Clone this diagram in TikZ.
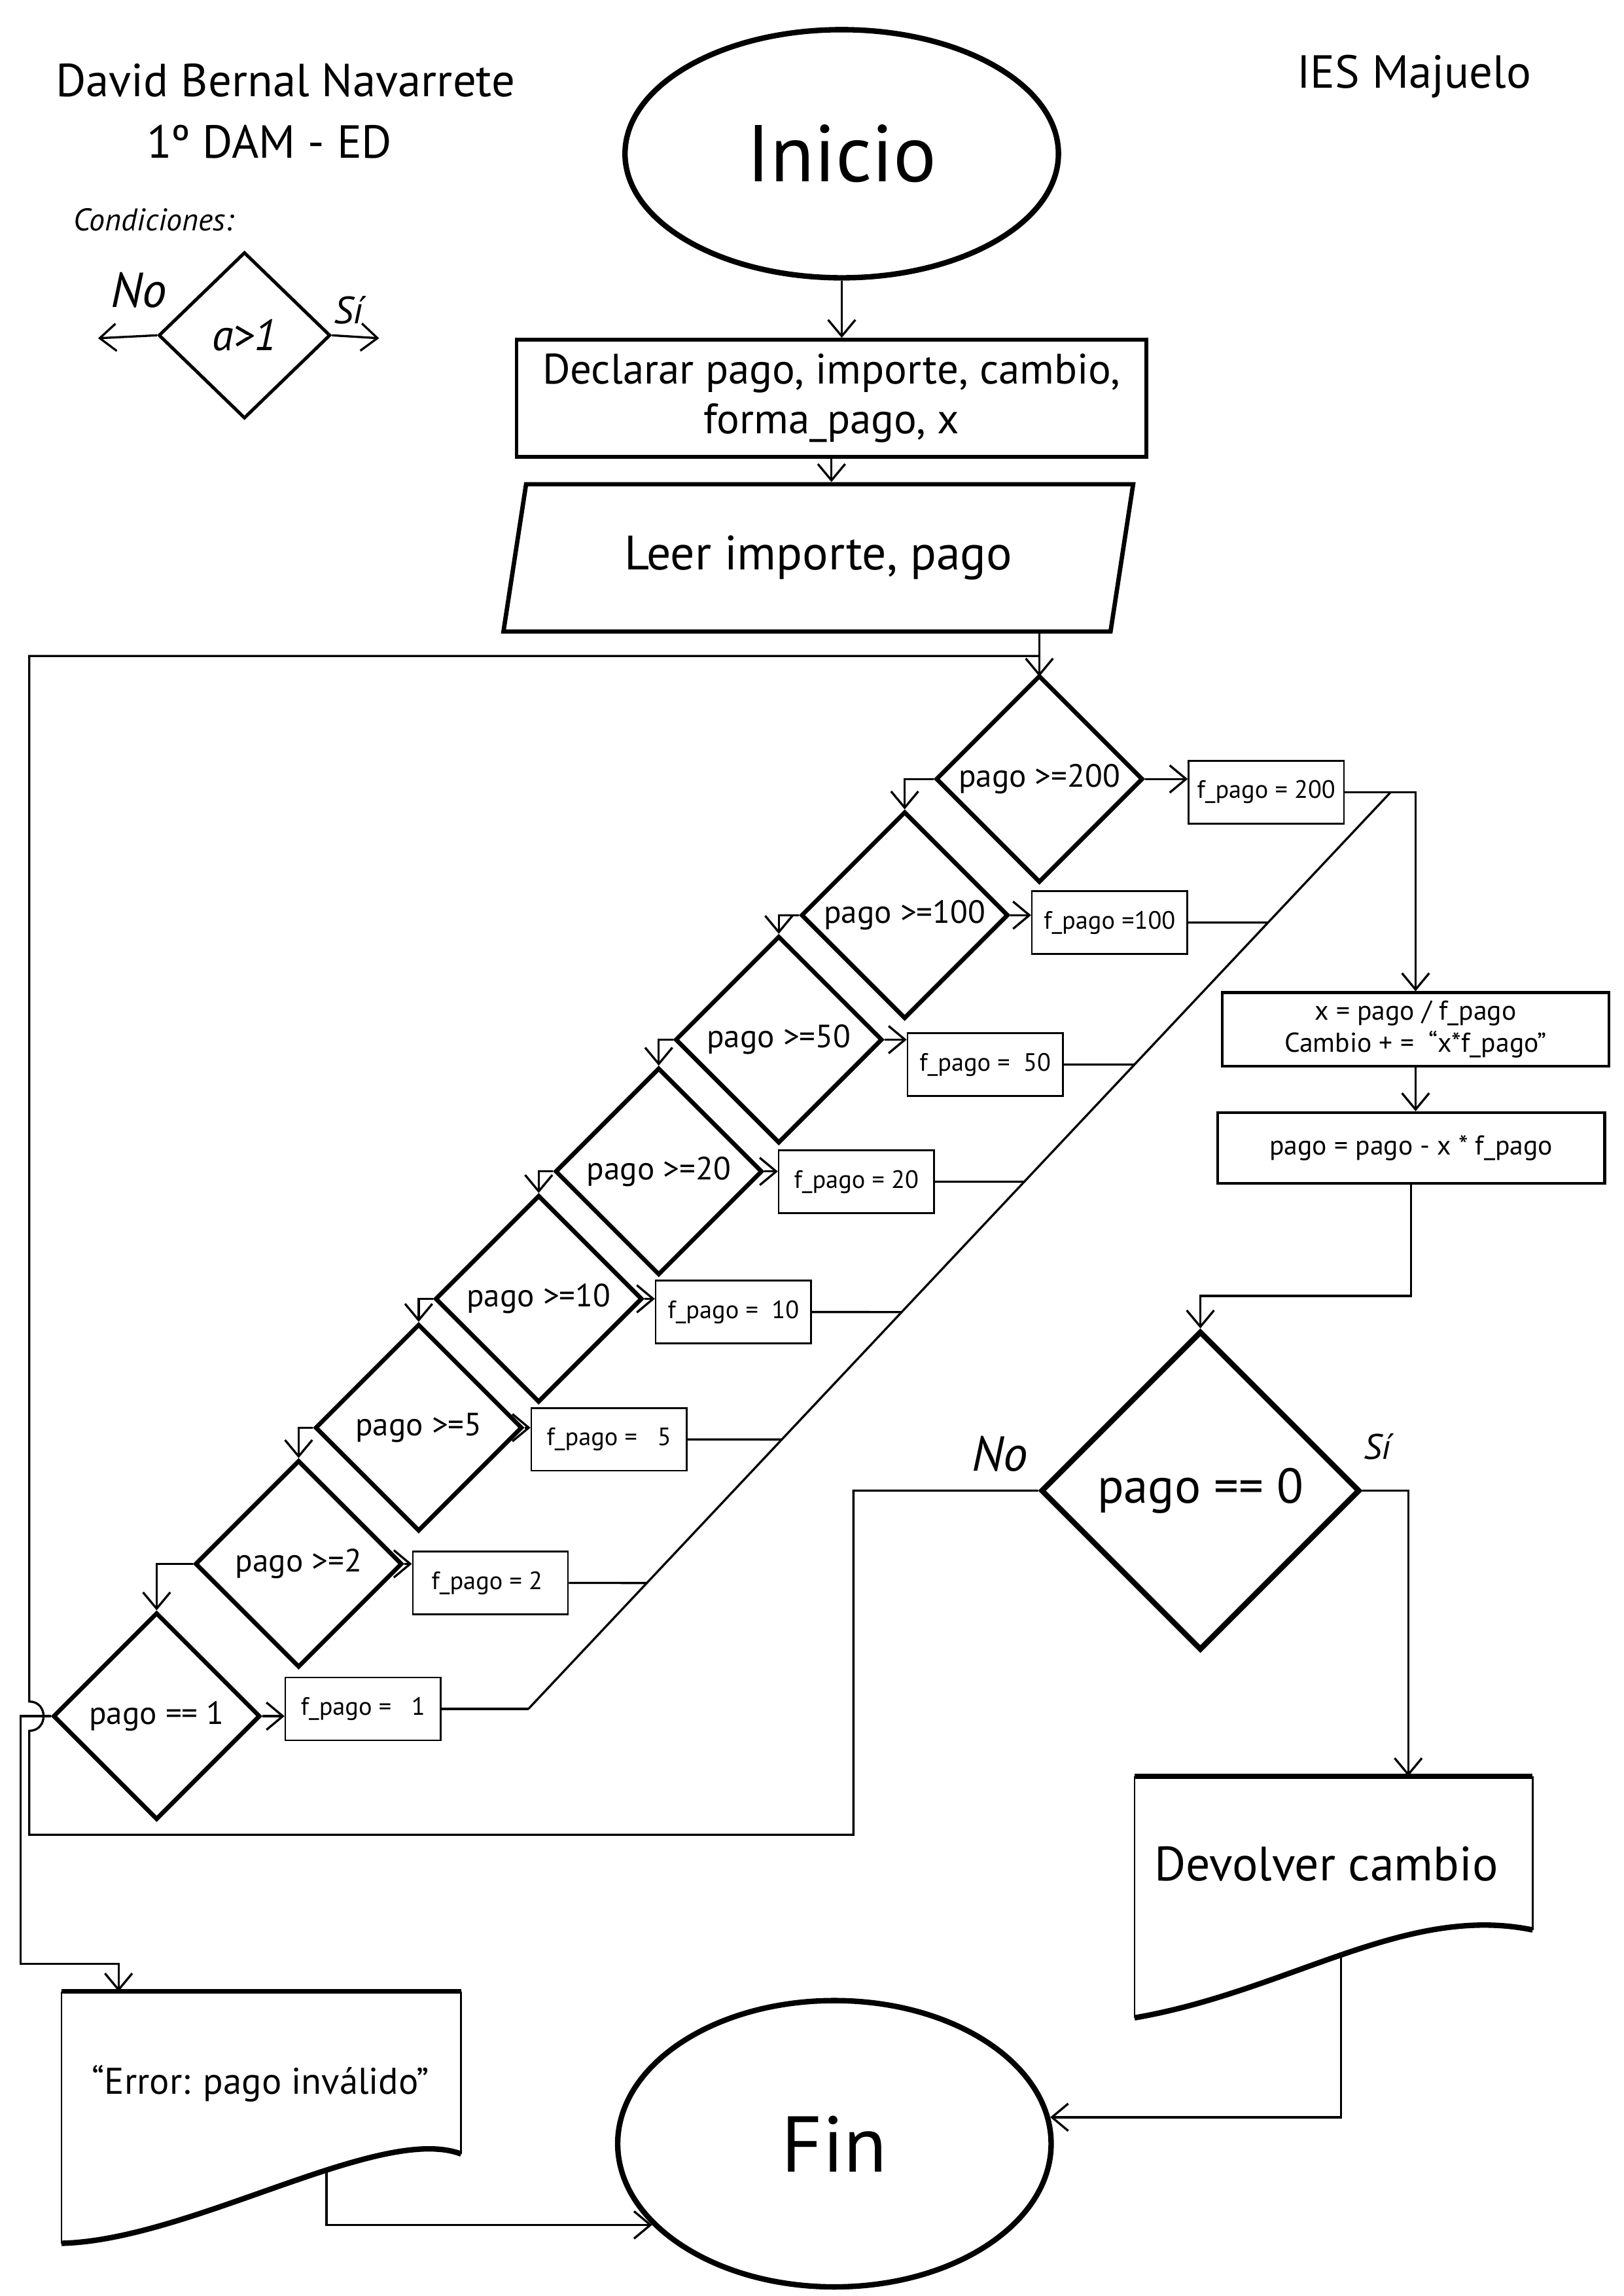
\documentclass[tikz,border=0pt]{standalone}
\usepackage{fontspec}
\setmainfont{PT Sans}
\usetikzlibrary{shapes.geometric,arrows.meta}

\begin{document}
\begin{tikzpicture}[x=0.537pt,y=-0.537pt,line width=0.8pt,>={Straight Barb[length=6pt,width=10pt]}]

	\tikzstyle{terminal}=[draw,ellipse,line width=2pt,inner sep=0pt]
	\tikzstyle{proceso}=[draw,rectangle,line width=1.3pt,align=center,inner sep=0pt]
	\tikzstyle{entrada}=[draw,trapezium,trapezium left angle=63,trapezium right angle=117,trapezium stretches body,line width=1.6pt,inner sep=0pt]
	\tikzstyle{condicion}=[draw,diamond,line width=1.6pt,inner sep=0pt,minimum width=76pt,minimum height=76pt,font=\fontsize{11.8}{14}\selectfont]
	\tikzstyle{asignacion}=[draw,rectangle,line width=0.6pt,inner xsep=2pt,inner ysep=0pt,minimum width=57pt,minimum height=23pt,font=\fontsize{9.2}{11}\selectfont]
	\tikzstyle{mano}=[font=\itshape]

	\useasboundingbox (0,0) rectangle (1109,1568);

	% cabecera
	\node[font=\fontsize{17}{20}\selectfont] (autor) at (195,55) {David Bernal Navarrete};
	\node[font=\fontsize{17}{20}\selectfont] (curso) at (184,97) {1º DAM - ED};
	\node[font=\fontsize{17}{20}\selectfont] (centro) at (966,52) {IES Majuelo};

	% leyenda
	\node[mano,font=\itshape\fontsize{11.5}{13}\selectfont] (condiciones) at (105,150) {Condiciones:};
	\node[draw,diamond,line width=1.2pt,inner sep=0pt,minimum width=63pt,minimum height=61pt,font=\itshape\fontsize{16}{19}\selectfont] (ejemplo) at (167,229) {a>1};
	\coordinate (ejno) at (67,231);
	\coordinate (ejsi) at (259,231);
	\draw[->] (ejemplo.west) -- (ejno);
	\draw[->] (ejemplo.east) -- (ejsi);
	\node[font=\itshape\fontsize{18}{20}\selectfont] (etno) at (95,198) {No};
	\node[font=\itshape\fontsize{14}{16}\selectfont] (etsi) at (238,212) {Sí};

	% inicio y lectura
	\node[terminal,minimum width=159pt,minimum height=91pt,font=\fontsize{29.5}{34}\selectfont] (inicio) at (575,105) {Inicio};
	\node[proceso,minimum width=231pt,minimum height=43pt,font=\fontsize{15.6}{18.3}\selectfont] (declarar) at (568,272) {Declarar pago, importe, cambio,\\forma\_pago, x};
	\node[entrada,minimum width=231pt,minimum height=54pt,font=\fontsize{17.7}{20}\selectfont] (leer) at (559,381) {Leer importe, pago};

	\draw[->] (inicio.south) -- (inicio.south |- declarar.north);
	\draw[->] (declarar.south) -- (declarar.south |- leer.north);
	\draw[->] (leer.south -| 710,0) -- (710,462);

	% condiciones de billetes y monedas
	\node[condicion] (d200) at (710,532) {pago >=200};
	\node[condicion] (d100) at (618,625) {pago >=100};
	\node[condicion] (d50) at (532,710) {pago >=50};
	\node[condicion] (d20) at (450,800) {pago >=20};
	\node[condicion] (d10) at (368,887) {pago >=10};
	\node[condicion] (d5) at (286,975) {pago >=5};
	\node[condicion] (d2) at (204,1068) {pago >=2};
	\node[condicion] (d1) at (107,1172) {pago == 1};

	\node[asignacion] (f200) at (865,541) {f\_pago = 200};
	\node[asignacion] (f100) at (758,630) {f\_pago =100};
	\node[asignacion] (f50) at (673,727) {f\_pago = \ 50};
	\node[asignacion] (f20) at (585,807) {f\_pago = 20};
	\node[asignacion] (f10) at (501,896) {f\_pago = \ 10};
	\node[asignacion] (f5) at (416,983) {f\_pago = \ \ 5};
	\node[asignacion] (f2) at (335,1081) {f\_pago = 2\ \ };
	\node[asignacion] (f1) at (248,1167) {f\_pago = \ \ 1};

	\draw[->] (d200.west) -| (d100.north);
	\draw[->] (d100.west) -| (d50.north);
	\draw[->] (d50.west) -| (d20.north);
	\draw[->] (d20.west) -| (d10.north);
	\draw[->] (d10.west) -| (d5.north);
	\draw[->] (d5.west) -| (d2.north);
	\draw[->] (d2.west) -| (d1.north);

	\draw[->] (d200.east) -- (d200.east -| f200.west);
	\draw[->] (d100.east) -- (d100.east -| f100.west);
	\draw[->] (d50.east) -- (d50.east -| f50.west);
	\draw[->] (d20.east) -- (d20.east -| f20.west);
	\draw[->] (d10.east) -- (d10.east -| f10.west);
	\draw[->] (d5.east) -- (d5.east -| f5.west);
	\draw[->] (d2.east) -- (d2.east -| f2.west);
	\draw[->] (d1.east) -- (d1.east -| f1.west);

	% colector
	\coordinate (colector1) at (950,541);
	\coordinate (colector2) at (361,1167);
	\draw (colector2) -- (colector1);
	\draw (f100.east) -- (intersection of colector1--colector2 and f100.west--f100.east);
	\draw (f50.east) -- (intersection of colector1--colector2 and f50.west--f50.east);
	\draw (f20.east) -- (intersection of colector1--colector2 and f20.west--f20.east);
	\draw (f10.east) -- (intersection of colector1--colector2 and f10.west--f10.east);
	\draw (f5.east) -- (intersection of colector1--colector2 and f5.west--f5.east);
	\draw (f2.east) -- (intersection of colector1--colector2 and f2.west--f2.east);
	\draw (f1.east) -- (colector2);

	% calculo del cambio
	\node[proceso,line width=1pt,minimum width=142pt,minimum height=27pt,font=\fontsize{10}{11.8}\selectfont] (calc) at (967,703) {x = pago / f\_pago\\Cambio + = \ “x*f\_pago”};
	\node[proceso,line width=1pt,minimum width=142pt,minimum height=26pt,font=\fontsize{10}{12}\selectfont] (resta) at (964,784) {pago = pago - x * f\_pago};
	\node[condicion,line width=2pt,minimum width=117pt,minimum height=117pt,font=\fontsize{18}{21}\selectfont] (d0) at (820,1018) {pago == 0};

	\draw[->] (f200.east) -| (calc.north);
	\draw[->] (calc.south) -- (calc.south |- resta.north);
	\coordinate (codo0) at (820,885);
	\draw[->] (resta.south) |- (codo0) -- (d0.north);

	\node[font=\itshape\fontsize{18}{20}\selectfont] (no0) at (683,993) {No};
	\node[font=\itshape\fontsize{13}{15}\selectfont] (si0) at (941,988) {Sí};

	% vuelta al bucle
	\coordinate (union) at (710,448);
	\coordinate (lazo1) at (583,1253);
	\coordinate (lazo2) at (20,1253);
	\draw (d0.west) -| (lazo1) -- (lazo2) -- (20,1182) .. controls (33,1182) and (33,1162) .. (20,1162) |- (union);

	% error
	\coordinate (errcodo) at (14,1341);
	\coordinate (errentrada) at (81,1360);
	\draw[->] (d1.west) -| (errcodo) -| (errentrada);

	\draw[line width=1.8pt] (42,1360) -- (315,1360);
	\draw[line width=0.6pt] (315,1360) -- (315,1471);
	\draw[line width=0.6pt] (42,1360) -- (42,1532);
	\draw[line width=2pt] (315,1471) .. controls (260,1450) and (130,1530) .. (42,1532);
	\node[font=\fontsize{13.6}{16}\selectfont] (error) at (178,1423) {“Error: pago inválido”};

	% devolver cambio
	\coordinate (deventrada) at (962,1213);
	\draw[->] (d0.east) -| (deventrada);

	\draw[line width=1.8pt] (775,1213) -- (1047,1213);
	\draw[line width=0.6pt] (1047,1213) -- (1047,1318);
	\draw[line width=0.6pt] (775,1213) -- (775,1378);
	\draw[line width=2pt] (1047,1318) .. controls (960,1300) and (880,1360) .. (775,1378);
	\node[font=\fontsize{17.7}{20}\selectfont] (devolver) at (906,1273) {Devolver cambio};

	% fin
	\node[terminal,minimum width=159pt,minimum height=105pt,font=\fontsize{29}{34}\selectfont] (fin) at (570,1464) {Fin};

	\coordinate (devsalida) at (916,1334);
	\coordinate (errsalida) at (223,1482);
	\draw[->] (devsalida) |- (fin.7);
	\draw[->] (errsalida) |- (fin.204);

\end{tikzpicture}
\end{document}
